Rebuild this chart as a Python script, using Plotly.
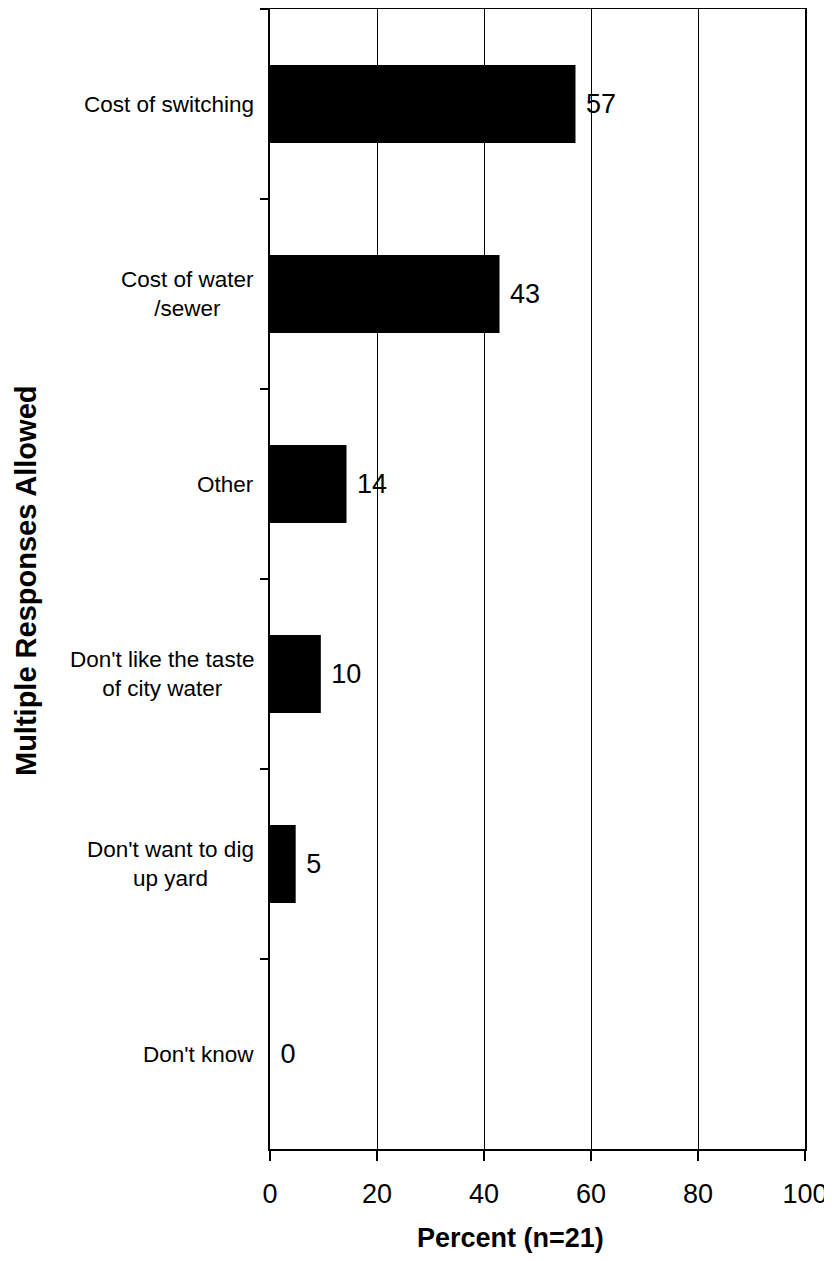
import plotly.graph_objects as go

categories = ["Cost of switching", "Cost of water<br>/sewer", "Other",
              "Don't like the taste<br>of city water", "Don't want to dig<br>up yard", "Don't know"]
values = [57.1, 42.9, 14.3, 9.5, 4.8, 0.0]
value_labels = ["57", "43", "14", "10", "5", "0"]
x_ticks = [0, 20, 40, 60, 80, 100]

FONT = "Liberation Sans, Arial, Helvetica, sans-serif"

# page body adds an 8px offset; figure is sized to fit the window
OFF = 8
W, H = 824, 1253
ML, MR, MT, MB = 262, 27, 1, 112
PW, PH = W - ML - MR, H - MT - MB


def px_x(px):
    return (px - OFF - ML) / PW


def px_y(py):
    return (H - MB - (py - OFF)) / PH


fig = go.Figure()
fig.add_trace(go.Bar(
    y=categories, x=values, orientation="h",
    marker=dict(color="black", line=dict(width=0)),
    text=value_labels, texttemplate=" %{text}", textposition="outside",
    textfont=dict(family=FONT, size=27, color="black"),
    cliponaxis=False, showlegend=False,
))

for c in categories:
    fig.add_annotation(
        x=0, xref="paper", y=c, yref="y", text=c, showarrow=False,
        xanchor="right", yanchor="middle", align="center", xshift=-14,
        font=dict(family=FONT, size=22.5, color="black"),
    )

fig.add_annotation(
    x=px_x(510), xref="paper", y=px_y(1238), yref="paper", text="<b>Percent (n=21)</b>",
    showarrow=False, xanchor="center", yanchor="middle",
    font=dict(family=FONT, size=27, color="black"),
)

fig.add_annotation(
    x=px_x(26), xref="paper", y=px_y(581), yref="paper", text="<b>Multiple Responses Allowed</b>",
    showarrow=False, textangle=-90, xanchor="center", yanchor="middle",
    font=dict(family=FONT, size=29, color="black"),
)

fig.update_layout(
    width=W, height=H,
    margin=dict(l=ML, r=MR, t=MT, b=MB, pad=0, autoexpand=False),
    paper_bgcolor="white", plot_bgcolor="white",
    bargap=0.59,
    font=dict(family=FONT, color="black"),
    xaxis=dict(
        range=[0, 100], tickvals=x_ticks, ticktext=[str(v) for v in x_ticks],
        showgrid=True, gridcolor="black", gridwidth=1,
        zeroline=False, showline=True, linecolor="black", linewidth=2, mirror=True,
        ticks="outside", ticklen=10, tickwidth=2, tickcolor="black",
        tickfont=dict(family=FONT, size=27, color="black"),
        ticklabelstandoff=10,
    ),
    yaxis=dict(
        autorange="reversed", showticklabels=False,
        showline=True, linecolor="black", linewidth=2, mirror=True,
        ticks="outside", ticklen=8, tickwidth=2, tickcolor="black",
        tickson="boundaries", showgrid=False, zeroline=False,
    ),
)

fig.write_html("out.html")
